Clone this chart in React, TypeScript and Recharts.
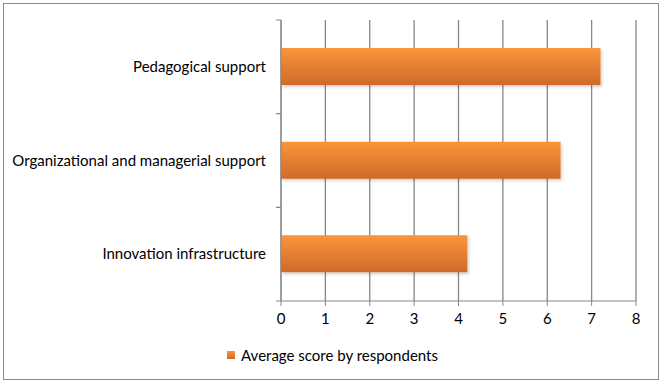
import { BarChart, Bar, XAxis, YAxis, CartesianGrid, Legend } from 'recharts';

const categories = ['Pedagogical support', 'Organizational and managerial support', 'Innovation infrastructure'];
const averageScores = [7.2, 6.3, 4.2];
const xTicks = [0, 1, 2, 3, 4, 5, 6, 7, 8];
const seriesName = 'Average score by respondents';

const data = categories.map((name, i) => ({ name, score: averageScores[i] }));

const FONT = 'Lato, "Open Sans", sans-serif';
const AXIS = '#878787';
const TICK_SIZE = 5;
const TICK_MARGIN = 10;

// category labels, plus the small marks at the band edges (Excel style)
function CategoryTick(props: any) {
  const { x, y, payload, height, visibleTicksCount } = props;
  const half = height / visibleTicksCount / 2;
  const edge = x + TICK_SIZE + TICK_MARGIN;
  return (
    <g>
      <text x={x} y={y} dy="0.355em" textAnchor="end" fill="#000" fontSize={15} fontFamily={FONT}>
        {payload.value}
      </text>
      <line x1={edge - TICK_SIZE} x2={edge} y1={y - half} y2={y - half} stroke={AXIS} />
      <line x1={edge - TICK_SIZE} x2={edge} y1={y + half} y2={y + half} stroke={AXIS} />
    </g>
  );
}

function LegendContent() {
  return (
    <div style={{ height: 20, display: 'flex', alignItems: 'center', justifyContent: 'center', paddingLeft: 25, fontFamily: FONT, fontSize: 15, color: '#000' }}>
      <span style={{ width: 8, height: 8, background: 'linear-gradient(#f8933a, #d36c2b)', marginRight: 6 }} />
      <span>{seriesName}</span>
    </div>
  );
}

export default function App() {
  return (
    <div style={{ position: 'absolute', left: 3, top: 3, width: 654, height: 375, border: '1px solid #8a8a8a', background: '#fff' }}>
      <BarChart
        width={654}
        height={375}
        data={data}
        layout="vertical"
        margin={{ top: 16, right: 22, left: 0, bottom: 14 }}
      >
        <defs>
          <linearGradient id="barFill" x1="0" y1="0" x2="0" y2="1">
            <stop offset="0%" stopColor="#fb953b" />
            <stop offset="100%" stopColor="#cf6a2a" />
          </linearGradient>
          <filter id="barShadow" x="-5%" y="-20%" width="115%" height="160%">
            <feDropShadow dx="1.5" dy="2" stdDeviation="1.5" floodColor="#000" floodOpacity="0.18" />
          </filter>
        </defs>
        <CartesianGrid horizontal={false} stroke={AXIS} strokeWidth={1.3} />
        <XAxis
          type="number"
          domain={[0, 8]}
          ticks={xTicks}
          interval={0}
          height={44}
          tickSize={TICK_SIZE}
          tickMargin={7}
          stroke={AXIS}
          tick={{ fill: '#000', fontSize: 15, fontFamily: FONT }}
        />
        <YAxis
          type="category"
          dataKey="name"
          width={277}
          tickSize={TICK_SIZE}
          tickMargin={TICK_MARGIN}
          tickLine={false}
          stroke={AXIS}
          tick={<CategoryTick />}
        />
        <Legend verticalAlign="bottom" content={<LegendContent />} />
        <Bar
          dataKey="score"
          name={seriesName}
          fill="url(#barFill)"
          barSize={37}
          filter="url(#barShadow)"
          isAnimationActive={false}
        />
      </BarChart>
    </div>
  );
}
